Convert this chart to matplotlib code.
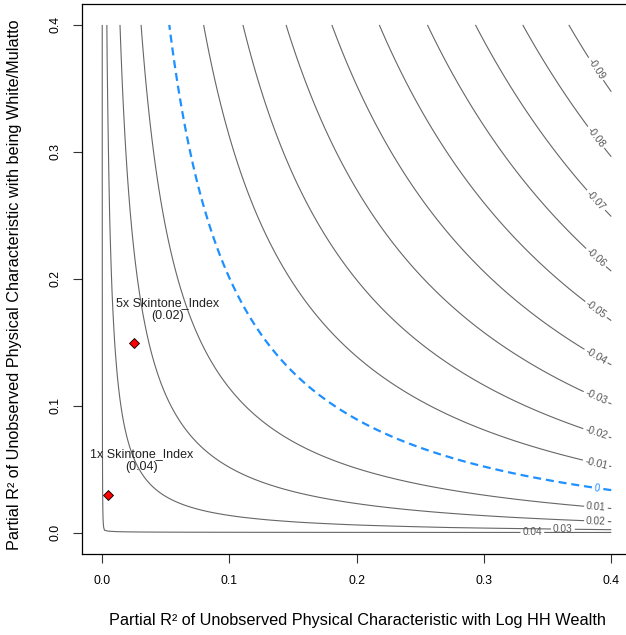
import numpy as np
import matplotlib
matplotlib.use('Agg')
import matplotlib.pyplot as plt

plt.rcParams['font.family'] = ['Liberation Sans', 'DejaVu Sans']

# 估计值（未调整）与标准误
estimate = 0.0405
se = 0.0073
dof = 1380

# 等高线水平
levels = [-0.09, -0.08, -0.07, -0.06, -0.05, -0.04, -0.03, -0.02, -0.01, 0.01, 0.02, 0.03, 0.04]
threshold = 0.0

# 基准点 (bounds)
bound_x = [0.0047, 0.0251]
bound_y = [0.0300, 0.1490]
bound_names = ['1x Skintone_Index', '5x Skintone_Index']

lim = 0.4

def adjusted(r2x, r2y):
    bias = se * np.sqrt(dof) * np.sqrt(r2y * r2x / (1 - r2x))
    return estimate - bias

grid = np.linspace(0, lim, 201)
X, Y = np.meshgrid(grid, grid)
Z = adjusted(X, Y)

fig = plt.figure(figsize=(6.26, 6.35), dpi=100)
ax = fig.add_axes([0.1305, 0.1283, 0.8797, 0.8654])

grey = '#666666'
cs = ax.contour(X, Y, Z, levels=levels, colors=grey, linewidths=0.8,
                linestyles='solid', negative_linestyles='solid')

# 标签放在右端附近
def label_pos(lvl, xpos):
    b = (estimate - lvl) / (se * np.sqrt(dof))
    return (xpos, b ** 2 * (1 - xpos) / xpos)

label_x = {0.04: 0.338, 0.03: 0.362}
manual = [label_pos(l, label_x.get(l, 0.388)) for l in levels]
ax.clabel(cs, fmt=lambda v: f'{v:g}', fontsize=7.3, colors='#555555',
          inline=True, inline_spacing=3, manual=manual)

cs0 = ax.contour(X, Y, Z, levels=[threshold], colors='#1e90ff',
                 linewidths=1.6, linestyles=[(0, (3.6, 2.2))])
ax.clabel(cs0, fmt=lambda v: '0', fontsize=7.3, colors='#1e90ff',
          inline=True, inline_spacing=3, manual=[label_pos(threshold, 0.389)])

# 基准点
ax.plot(bound_x, bound_y, 'D', color='red', markeredgecolor='black',
        markeredgewidth=0.6, markersize=5.5, linestyle='none', zorder=5)
bump = lim / 15
for bx, by, name in zip(bound_x, bound_y, bound_names):
    val = adjusted(bx, by)
    ax.text(bx + bump, by + bump, f'{name}\n({val:.2f})', ha='center', va='center',
            fontsize=9, color='#222222', linespacing=1.05)

ax.set_xlim(-0.016, 0.4166)
ax.set_ylim(-0.0165, 0.4165)
ax.set_xticks([0.0, 0.1, 0.2, 0.3, 0.4])
ax.set_yticks([0.0, 0.1, 0.2, 0.3, 0.4])
ax.set_xticklabels(['0.0', '0.1', '0.2', '0.3', '0.4'])
ax.set_yticklabels(['0.0', '0.1', '0.2', '0.3', '0.4'], rotation=90, va='center')
ax.tick_params(axis='both', length=6.8, width=0.8, labelsize=8.8, color='#333333')
ax.tick_params(axis='x', pad=9)
ax.tick_params(axis='y', pad=8)
for s in ax.spines.values():
    s.set_linewidth(0.9)

fig.text(357 / 626, 1 - 621 / 635,
         'Partial R² of Unobserved Physical Characteristic with Log HH Wealth',
         ha='center', va='center', fontsize=11.7)
fig.text(15 / 626, 1 - 285 / 635,
         'Partial R² of Unobserved Physical Characteristic with being White/Mulatto',
         ha='center', va='center', rotation=90, fontsize=11.7)

fig.savefig('out.png', dpi=100)
